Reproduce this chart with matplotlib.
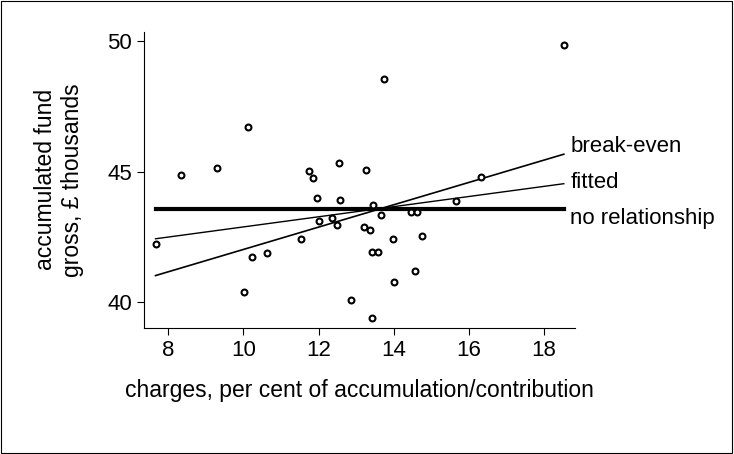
import matplotlib.pyplot as plt
from matplotlib.patches import Rectangle

charges = [7.66, 8.35, 9.30, 10.11, 10.01, 10.24, 10.62, 11.53, 11.75, 11.86, 11.95, 12.01,
           12.35, 12.49, 12.55, 12.57, 12.87, 13.22, 13.27, 13.37, 13.43, 13.43, 13.57, 13.45,
           13.67, 13.73, 13.97, 14.00, 14.46, 14.62, 14.76, 14.57, 15.65, 16.32, 18.53]
fund = [42.25, 44.87, 45.15, 46.72, 40.41, 41.74, 41.89, 42.43, 45.04, 44.75, 44.00, 43.13,
        43.23, 42.96, 45.36, 43.93, 40.09, 42.90, 45.06, 42.78, 39.39, 41.93, 41.93, 43.74,
        43.36, 48.57, 42.43, 40.79, 43.47, 43.47, 42.55, 41.21, 43.87, 44.79, 49.85]

line_x = [7.66, 18.53]
no_rel = [43.59, 43.59]
break_even = [41.03, 45.68]
fitted = [42.44, 44.55]

line_labels = ['break-even', 'fitted', 'no relationship']
label_y = [45.97, 44.59, 43.21]

plt.rcParams['font.family'] = ['Liberation Sans', 'DejaVu Sans']
fig = plt.figure(figsize=(7.34, 4.54), dpi=100)
fig.patches.append(Rectangle((0.002, 0.002), 0.995, 0.995, transform=fig.transFigure,
                             fill=False, edgecolor='black', linewidth=0.8))
ax = fig.add_axes([0.196, 0.278, 0.587, 0.652])

ax.scatter(charges, fund, s=18, facecolors='white', edgecolors='black', linewidths=1.5, zorder=3)
ax.plot(line_x, no_rel, color='black', linewidth=3)
ax.plot(line_x, break_even, color='black', linewidth=1.2)
ax.plot(line_x, fitted, color='black', linewidth=1)

for y, lab in zip(label_y, line_labels):
    ax.text(18.7, y, lab, fontsize=16, va='center', ha='left')

ax.set_xlim(7.35, 18.82)
ax.set_ylim(39.03, 50.37)
ax.set_xticks([8, 10, 12, 14, 16, 18])
ax.set_yticks([40, 45, 50])
ax.spines['top'].set_visible(False)
ax.spines['right'].set_visible(False)
ax.tick_params(labelsize=16, length=5, direction='out')
ax.set_xlabel('charges, per cent of accumulation/contribution', fontsize=16.5, labelpad=13)
ax.set_ylabel('accumulated fund\ngross, £ thousands', fontsize=16.5, labelpad=17)

fig.savefig('out.png', dpi=100)
